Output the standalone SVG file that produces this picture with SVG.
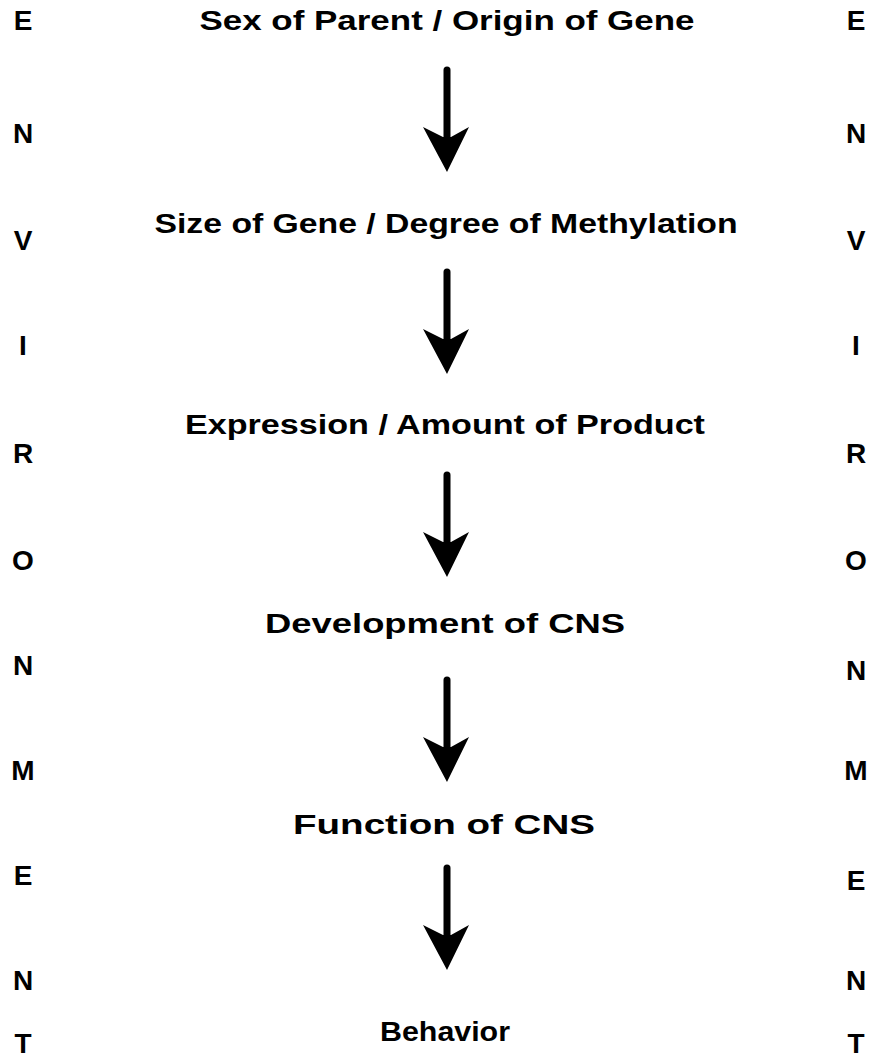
<svg xmlns="http://www.w3.org/2000/svg" width="883" height="1061" viewBox="0 0 883 1061">
<style>
.lbl{font-family:"Liberation Sans",Arial,sans-serif;font-size:28px;font-weight:bold;fill:#000;text-anchor:middle}
.env{font-family:"Liberation Sans",Arial,sans-serif;font-size:28px;font-weight:bold;fill:#000;text-anchor:middle}
.shaft{stroke:#000;stroke-width:7;stroke-linecap:round;fill:none}
.head{fill:#000}
</style>
<defs>
<g id="arrow">
<line class="shaft" x1="0" y1="0" x2="0" y2="70"/>
<path class="head" d="M-24,57 L-4,67 L4,67 L22,57 L0,102 Z"/>
</g>
</defs>
<rect width="883" height="1061" fill="#fff"/>
<g id="env-left">
<text class="env" x="23" y="30">E</text>
<text class="env" x="23" y="143">N</text>
<text class="env" x="23" y="250">V</text>
<text class="env" x="23" y="355">I</text>
<text class="env" x="23" y="463">R</text>
<text class="env" x="23" y="570">O</text>
<text class="env" x="23" y="675">N</text>
<text class="env" x="23" y="780">M</text>
<text class="env" x="23" y="885">E</text>
<text class="env" x="23" y="990">N</text>
<text class="env" x="23" y="1053">T</text>
</g>
<g id="env-right">
<text class="env" x="856" y="30">E</text>
<text class="env" x="856" y="143">N</text>
<text class="env" x="856" y="250">V</text>
<text class="env" x="856" y="355">I</text>
<text class="env" x="856" y="463">R</text>
<text class="env" x="856" y="570">O</text>
<text class="env" x="856" y="680">N</text>
<text class="env" x="856" y="780">M</text>
<text class="env" x="856" y="890">E</text>
<text class="env" x="856" y="990">N</text>
<text class="env" x="856" y="1053">T</text>
</g>
<g id="n1"><text class="lbl" x="447" y="30" textLength="495" lengthAdjust="spacingAndGlyphs">Sex of Parent / Origin of Gene</text></g>
<g id="n2"><text class="lbl" x="446" y="233" textLength="583" lengthAdjust="spacingAndGlyphs">Size of Gene / Degree of Methylation</text></g>
<g id="n3"><text class="lbl" x="445" y="434" textLength="520" lengthAdjust="spacingAndGlyphs">Expression / Amount of Product</text></g>
<g id="n4"><text class="lbl" x="445" y="633" textLength="360" lengthAdjust="spacingAndGlyphs">Development of CNS</text></g>
<g id="n5"><text class="lbl" x="444" y="834" textLength="302" lengthAdjust="spacingAndGlyphs">Function of CNS</text></g>
<g id="n6"><text class="lbl" x="445" y="1041" textLength="130" lengthAdjust="spacingAndGlyphs">Behavior</text></g>
<g id="connectors">
<use href="#arrow" x="447" y="70"/>
<use href="#arrow" x="447" y="272"/>
<use href="#arrow" x="447" y="475"/>
<use href="#arrow" x="447" y="680"/>
<use href="#arrow" x="447" y="868"/>
</g>
</svg>
